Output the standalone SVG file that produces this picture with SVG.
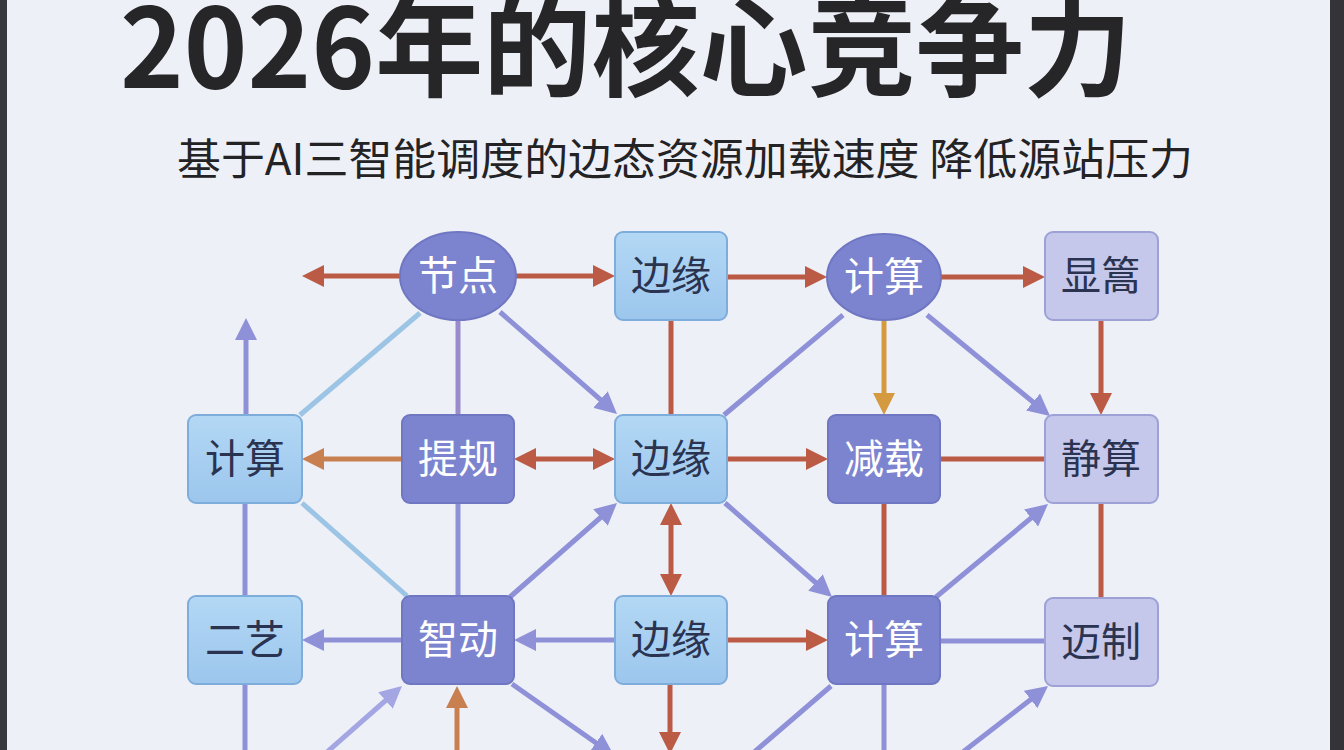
<svg xmlns="http://www.w3.org/2000/svg" width="1344" height="750" viewBox="0 0 1344 750">
<style>
.title{font-family:"Noto Sans CJK SC","Noto Sans",sans-serif;font-weight:700;font-size:110px;fill:#262628}
.sub{font-family:"Noto Sans CJK SC","Noto Sans",sans-serif;font-weight:400;font-size:43px;fill:#232326}
.lbl{font-family:"Noto Sans CJK SC",sans-serif;font-size:40px;text-anchor:middle}
.dk{fill:#7d84cf;stroke:#6f76c2;stroke-width:2}
.lb{fill:url(#gBlue);stroke:#7eaddc;stroke-width:2}
.lv{fill:#c5c7eb;stroke:#9da1d6;stroke-width:2}
.tw{fill:#ffffff}
.td{fill:#2a3350}
.c{fill:none;stroke-width:5}
.red{stroke:#bb5a45}
.org{stroke:#c98050}
.gld{stroke:#d49a40}
.pur{stroke:#8e90d8}
.lpu{stroke:#a3a6e2}
.lbl2{stroke:#9cc4e4}
.mau{stroke:#9a8ccc}
</style>
<defs>
<linearGradient id="gBlue" x1="0" y1="0" x2="0" y2="1">
<stop offset="0" stop-color="#b3d8f5"/>
<stop offset="1" stop-color="#9cc6ed"/>
</linearGradient>
<marker id="mRed" viewBox="0 0 22 22" markerWidth="22" markerHeight="22" markerUnits="userSpaceOnUse" refX="16" refY="11" orient="auto-start-reverse"><path d="M0,0 L22,11 L0,22 z" fill="#bb5a45"/></marker>
<marker id="mOrg" viewBox="0 0 22 22" markerWidth="22" markerHeight="22" markerUnits="userSpaceOnUse" refX="16" refY="11" orient="auto-start-reverse"><path d="M0,0 L22,11 L0,22 z" fill="#c98050"/></marker>
<marker id="mGld" viewBox="0 0 22 22" markerWidth="22" markerHeight="22" markerUnits="userSpaceOnUse" refX="16" refY="11" orient="auto-start-reverse"><path d="M0,0 L22,11 L0,22 z" fill="#d49a40"/></marker>
<marker id="mPur" viewBox="0 0 22 22" markerWidth="22" markerHeight="22" markerUnits="userSpaceOnUse" refX="16" refY="11" orient="auto-start-reverse"><path d="M0,0 L22,11 L0,22 z" fill="#8e90d8"/></marker>
<marker id="mLpu" viewBox="0 0 22 22" markerWidth="22" markerHeight="22" markerUnits="userSpaceOnUse" refX="16" refY="11" orient="auto-start-reverse"><path d="M0,0 L22,11 L0,22 z" fill="#a3a6e2"/></marker>
</defs>
<rect x="0" y="0" width="1344" height="750" fill="#eef0f7"/>
<rect x="0" y="0" width="7" height="750" fill="#38383e"/>
<rect x="1330" y="0" width="14" height="750" fill="#333338"/>

<text class="title" x="120" y="88" textLength="1012" lengthAdjust="spacingAndGlyphs">2026年的核心竞争力</text>
<text class="sub" x="177" y="175" textLength="1016" lengthAdjust="spacingAndGlyphs">基于AI三智能调度的边态资源加载速度 降低源站压力</text>

<g id="connectors">
<path class="c red" d="M400,276 L308,276" marker-end="url(#mRed)"/>
<path class="c red" d="M516,276 L609,276" marker-end="url(#mRed)"/>
<path class="c red" d="M727,277 L821,277" marker-end="url(#mRed)"/>
<path class="c red" d="M941,277 L1039,277" marker-end="url(#mRed)"/>
<path class="c red" d="M671,320 L671,415"/>
<path class="c red" d="M1101,320 L1101,409" marker-end="url(#mRed)"/>
<path class="c gld" d="M884,320 L884,409" marker-end="url(#mGld)"/>
<path class="c pur" d="M843,315 L724,415"/>
<path class="c pur" d="M927,315 L1045.4,412.2" marker-end="url(#mPur)"/>
<path class="c lbl2" d="M420,313 L300,415"/>
<path class="c mau" d="M458,320 L458,415"/>
<path class="c pur" d="M500,312 L612.5,410.1" marker-end="url(#mPur)"/>
<path class="c pur" d="M246,415 L246,324" marker-end="url(#mPur)"/>
<path class="c org" d="M402,459 L308,459" marker-end="url(#mOrg)"/>
<path class="c red" d="M520,459 L609,459" marker-start="url(#mRed)" marker-end="url(#mRed)"/>
<path class="c red" d="M727,459 L822,459" marker-end="url(#mRed)"/>
<path class="c red" d="M940,459 L1045,459"/>
<path class="c pur" d="M245,503 L245,596"/>
<path class="c lbl2" d="M302,503 L407,596"/>
<path class="c pur" d="M458,503 L458,596"/>
<path class="c pur" d="M510,597 L612.5,507" marker-end="url(#mPur)"/>
<path class="c red" d="M671,509 L671,590" marker-start="url(#mRed)" marker-end="url(#mRed)"/>
<path class="c pur" d="M725,503 L827.5,593" marker-end="url(#mPur)"/>
<path class="c red" d="M884,503 L884,596"/>
<path class="c pur" d="M936,597 L1043.4,507.8" marker-end="url(#mPur)"/>
<path class="c red" d="M1101,503 L1101,598"/>
<path class="c pur" d="M402,640 L308,640" marker-end="url(#mPur)"/>
<path class="c pur" d="M615,640 L520,640" marker-end="url(#mPur)"/>
<path class="c red" d="M727,640 L822,640" marker-end="url(#mRed)"/>
<path class="c pur" d="M940,641 L1045,641"/>
<path class="c pur" d="M245,684 L245,760"/>
<path class="c lpu" d="M318,760 L397.5,690" marker-end="url(#mLpu)"/>
<path class="c org" d="M457,760 L457,692" marker-end="url(#mOrg)"/>
<path class="c pur" d="M512,684 L609,752" marker-end="url(#mPur)"/>
<path class="c red" d="M670,684 L670,748" marker-end="url(#mRed)"/>
<path class="c pur" d="M831,686 L745,760"/>
<path class="c pur" d="M884,684 L884,760"/>
<path class="c pur" d="M950,762 L1043.3,689.7" marker-end="url(#mPur)"/>
</g>

<g id="n-jiedian"><ellipse class="dk" cx="458" cy="276" rx="58" ry="44"/><text class="lbl tw" x="458" y="290">节点</text></g>
<g id="n-bianyuan1"><rect class="lb" x="615" y="232" width="112" height="88" rx="8"/><text class="lbl td" x="671" y="290">边缘</text></g>
<g id="n-jisuan1"><ellipse class="dk" cx="884" cy="277" rx="57" ry="43"/><text class="lbl tw" x="884" y="291">计算</text></g>
<g id="n-xianmi"><rect class="lv" x="1045" y="232" width="113" height="88" rx="8"/><text class="lbl td" x="1101" y="290">显篙</text></g>

<g id="n-jisuan2"><rect class="lb" x="188" y="415" width="114" height="88" rx="8"/><text class="lbl td" x="245" y="473">计算</text></g>
<g id="n-tigui"><rect class="dk" x="402" y="415" width="112" height="88" rx="8"/><text class="lbl tw" x="458" y="473">提规</text></g>
<g id="n-bianyuan2"><rect class="lb" x="615" y="415" width="112" height="88" rx="8"/><text class="lbl td" x="671" y="473">边缘</text></g>
<g id="n-jianzai"><rect class="dk" x="828" y="415" width="112" height="88" rx="8"/><text class="lbl tw" x="884" y="473">减载</text></g>
<g id="n-jingsuan"><rect class="lv" x="1045" y="415" width="113" height="88" rx="8"/><text class="lbl td" x="1101" y="473">静算</text></g>

<g id="n-eryi"><rect class="lb" x="188" y="596" width="114" height="88" rx="8"/><text class="lbl td" x="245" y="654">二艺</text></g>
<g id="n-zhidong"><rect class="dk" x="402" y="596" width="112" height="88" rx="8"/><text class="lbl tw" x="458" y="654">智动</text></g>
<g id="n-bianyuan3"><rect class="lb" x="615" y="596" width="112" height="88" rx="8"/><text class="lbl td" x="671" y="654">边缘</text></g>
<g id="n-jisuan3"><rect class="dk" x="828" y="596" width="112" height="88" rx="8"/><text class="lbl tw" x="884" y="654">计算</text></g>
<g id="n-maizhi"><rect class="lv" x="1045" y="598" width="113" height="88" rx="8"/><text class="lbl td" x="1101" y="656">迈制</text></g>
</svg>
